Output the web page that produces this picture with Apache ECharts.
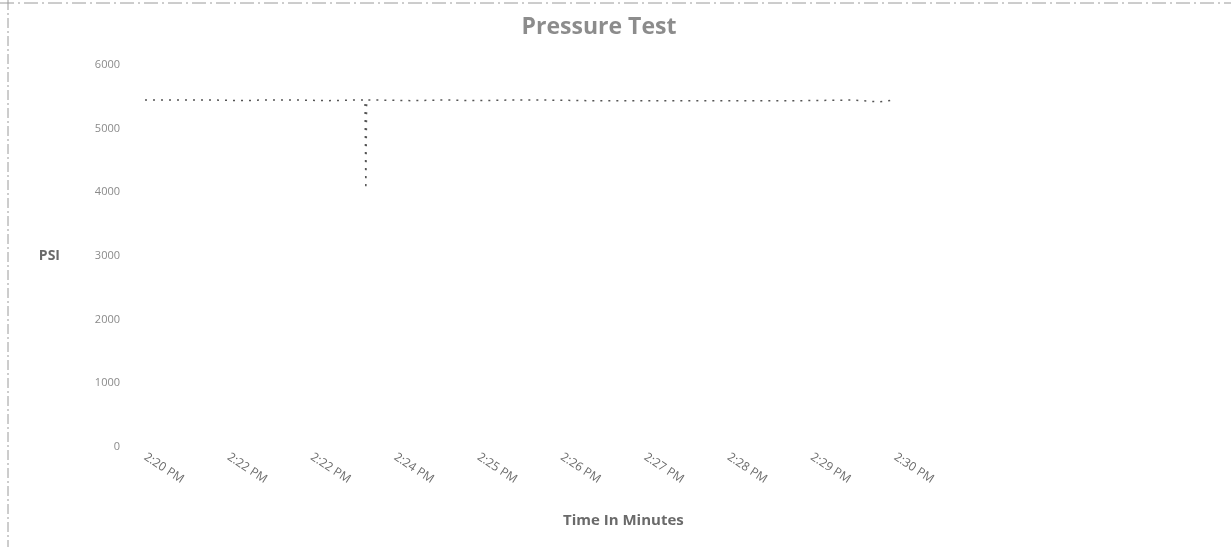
<!DOCTYPE html>
<html>
<head>
<meta charset="utf-8">
<script src="https://cdn.jsdelivr.net/npm/echarts@6/dist/echarts.min.js"></script>
<style>
html,body{margin:0;padding:0;background:#fff;}
#c{width:1231px;height:547px;}
</style>
</head>
<body>
<div id="c"></div>
<script>
// Tick labels along the time axis, as printed (evenly spaced)
const tickLabels = ["2:20 PM","2:22 PM","2:22 PM","2:24 PM","2:25 PM","2:26 PM","2:27 PM","2:28 PM","2:29 PM","2:30 PM"];
// Position of each reading along the time axis (in tick-label steps from 2:20 PM)
const elapsed  = [0, 0.8, 1.2, 1.4, 1.8, 2.2, 2.5, 2.64, 2.65, 2.66, 2.8, 3.2, 3.6, 4.0, 4.4, 4.8, 5.3, 5.8, 6.3, 6.8, 7.4, 7.9, 8.5, 8.8, 9.0];
// Pressure readings (PSI)
const pressure = [5450, 5450, 5440, 5450, 5450, 5440, 5450, 5450, 4050, 5450, 5450, 5440, 5450, 5440, 5450, 5450, 5440, 5440, 5440, 5440, 5440, 5440, 5450, 5420, 5450];
const yTicks = [0, 1000, 2000, 3000, 4000, 5000, 6000];

const chart = echarts.init(document.getElementById('c'), null, {renderer: 'canvas'});
const option = {
  backgroundColor: '#ffffff',
  animation: false,
  title: {
    text: 'Pressure Test',
    left: 594,
    textAlign: 'center',
    top: 11,
    textStyle: {fontFamily: 'Open Sans', fontSize: 23, fontWeight: 'bold', color: '#8c8c8c'}
  },
  grid: {left: 145, top: 65, width: 750, height: 382, containLabel: false},
  xAxis: {
    type: 'value',
    min: 0, max: tickLabels.length - 1, interval: 1,
    axisLine: {show: false},
    axisTick: {show: false},
    splitLine: {show: false},
    axisLabel: {
      rotate: -33,
      margin: 9,
      fontFamily: 'Open Sans',
      fontSize: 12,
      color: '#6a6a6a',
      formatter: v => tickLabels[Math.round(v)] || ''
    }
  },
  yAxis: {
    type: 'value',
    min: yTicks[0], max: yTicks[yTicks.length - 1], interval: 1000,
    name: 'PSI',
    nameLocation: 'middle',
    nameRotate: 0,
    nameGap: 85,
    nameTextStyle: {fontFamily: 'Open Sans', fontSize: 14, fontWeight: 'bold', color: '#6a6a6a'},
    axisLine: {show: false},
    axisTick: {show: false},
    splitLine: {show: false},
    axisLabel: {margin: 25, fontFamily: 'Open Sans', fontSize: 11, color: '#8a8a8a', formatter: v => String(v)}
  },
  graphic: [
    {type: 'text', left: 563, top: 513, style: {text: 'Time In Minutes', font: 'bold 15px "Open Sans"', fill: '#6a6a6a'}},
    {type: 'line', shape: {x1: 0, y1: 3, x2: 1231, y2: 3}, style: {stroke: '#9a9a9a', lineWidth: 1, lineDash: [14, 4, 2, 4]}},
    {type: 'line', shape: {x1: 8, y1: 0, x2: 8, y2: 547}, style: {stroke: '#9a9a9a', lineWidth: 1, lineDash: [10, 3, 2, 3]}}
  ],
  series: [{
    type: 'line',
    data: elapsed.map((x, i) => [x, pressure[i]]),
    showSymbol: false,
    lineStyle: {color: '#555555', width: 1.5, type: [2, 6]}
  }]
};
chart.setOption(option);
</script>
</body>
</html>
